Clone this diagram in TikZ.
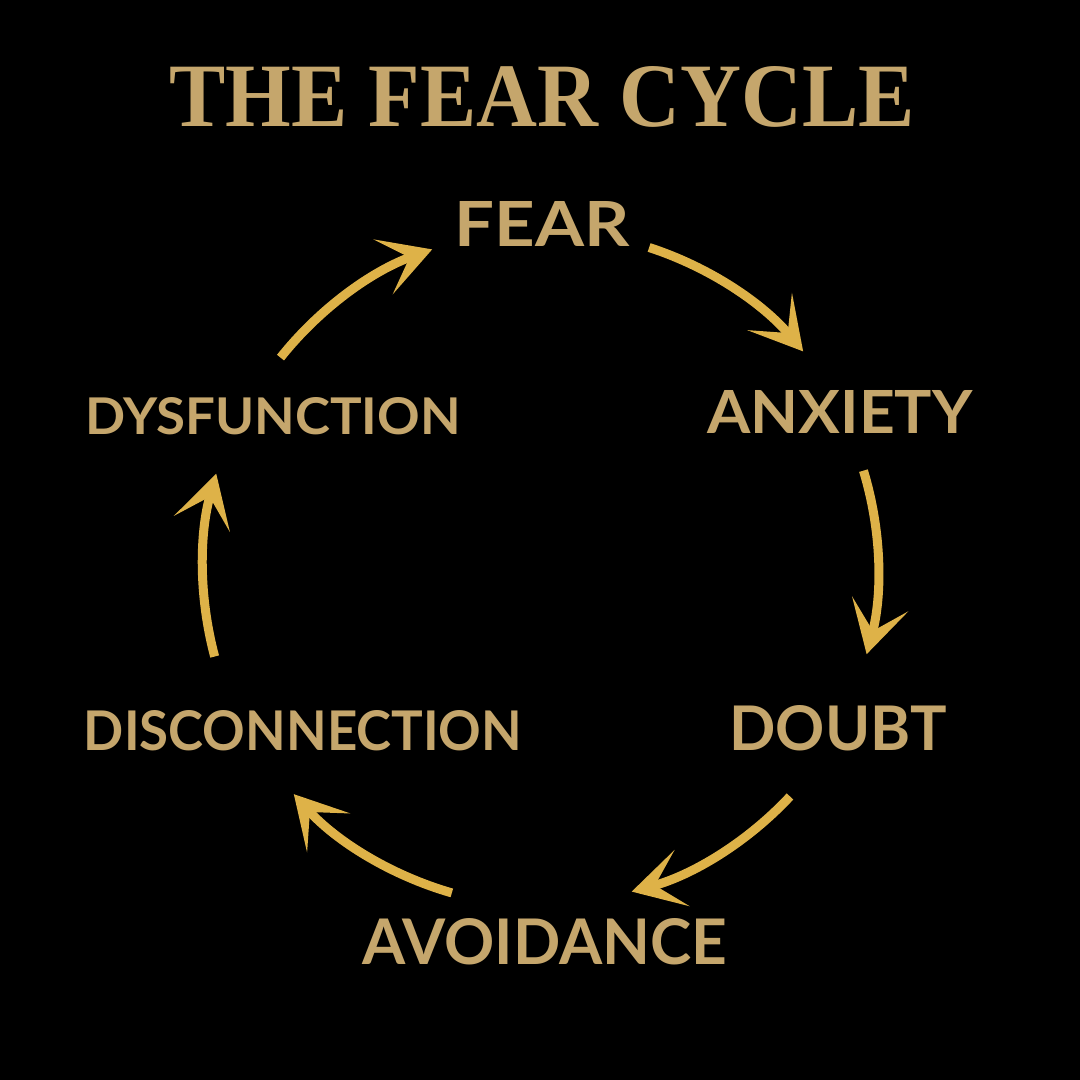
\documentclass[tikz,border=0pt]{standalone}
\usepackage{fontspec}
\usetikzlibrary{arrows.meta,calc}
\newfontfamily\labelfont{Lato}[BoldFont=* Bold]
\newfontfamily\titlefont{Liberation Serif}
\definecolor{goldtext}{RGB}{197,166,108}
\definecolor{goldarrow}{RGB}{222,178,72}
\tikzset{
  lbl/.style={inner sep=0pt, text=goldtext, anchor=center},
  cyc/.style={draw=goldarrow, line width=9pt, line cap=butt,
    -{Stealth[length=52pt 0 0,width=58pt 0 0,inset=28pt 0 0]}}
}
\newcommand{\lab}[3]{\resizebox{#1}{#2}{\labelfont\bfseries #3}}
\begin{document}
\begin{tikzpicture}[x=1pt,y=-1pt]
\fill[black] (0,0) rectangle (1080,1080);
\useasboundingbox (0,0) rectangle (1080,1080);
\node[lbl] (title) at (542,97) {\resizebox{745pt}{60pt}{\titlefont\bfseries THE FEAR CYCLE}};
\node[lbl] (fear) at (542,224) {\lab{175pt}{45pt}{FEAR}};
\node[lbl] (anxiety) at (840,412) {\lab{265pt}{43pt}{ANXIETY}};
\node[lbl] (doubt) at (838,728) {\lab{217pt}{45pt}{DOUBT}};
\node[lbl] (avoid) at (545,942) {\lab{364pt}{46pt}{AVOIDANCE}};
\node[lbl] (disc) at (303,731) {\lab{438pt}{40pt}{DISCONNECTION}};
\node[lbl] (dysf) at (273,416) {\lab{375pt}{37pt}{DYSFUNCTION}};
\coordinate (c) at (545,568);
\coordinate (a1) at ($(c)+(-72:337)$);
\coordinate (a2) at ($(c)+(-17:333)$);
\coordinate (a3) at ($(c)+(43:335)$);
\coordinate (a4) at ($(c)+(106:338)$);
\coordinate (a5) at ($(c)+(165:342)$);
\coordinate (a6) at ($(c)+(218.5:338)$);
\draw[cyc] (a1) arc[start angle=-72, end angle=-40, radius=337];
\draw[cyc] (a2) arc[start angle=-17, end angle=15, radius=333];
\draw[cyc] (a3) arc[start angle=43, end angle=75, radius=335];
\draw[cyc] (a4) arc[start angle=106, end angle=138, radius=338];
\draw[cyc] (a5) arc[start angle=165, end angle=196, radius=342];
\draw[cyc] (a6) arc[start angle=218.5, end angle=250.5, radius=338];
\end{tikzpicture}
\end{document}
